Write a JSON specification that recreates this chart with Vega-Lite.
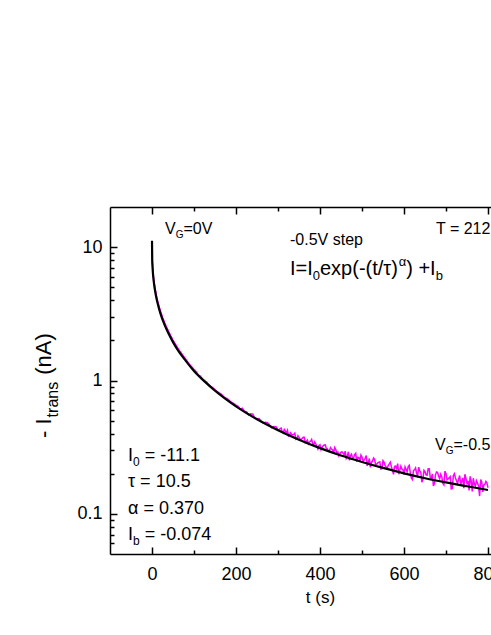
{
"$schema": "https://vega.github.io/schema/vega-lite/v6.json",
"width": 381, "height": 347,
"autosize": {"type": "none"},
"padding": {"left": 110, "top": 207, "right": 0, "bottom": 81},
"background": "white",
"config": {"view": {"stroke": null}, "font": "Liberation Sans", "text": {"font": "Liberation Sans", "color": "black"}},
"datasets": {
"measured": [
{"t":0,"v":11.1},{"t":0.5,"v":8.3},{"t":1,"v":7.6},{"t":2,"v":6.75},{"t":3,"v":6.2},{"t":5,"v":5.45},{"t":7,"v":4.95},{"t":10,"v":4.40},{"t":12,"v":4.10},{"t":15,"v":3.78},{"t":18,"v":3.50},{"t":20,"v":3.34},{"t":25,"v":2.98},{"t":30,"v":2.72},{"t":35,"v":2.50},{"t":40,"v":2.32},{"t":45,"v":2.15},{"t":50,"v":2.01},{"t":55,"v":1.89},{"t":60,"v":1.78},{"t":65,"v":1.68},{"t":70,"v":1.60},{"t":75,"v":1.52},{"t":80,"v":1.45},{"t":85,"v":1.38},{"t":90,"v":1.31},{"t":95,"v":1.26},{"t":100,"v":1.21},{"t":105,"v":1.17},{"t":110,"v":1.10},{"t":115,"v":1.08},{"t":120,"v":1.03},{"t":125,"v":1.00},{"t":130,"v":0.975},{"t":135,"v":0.93},{"t":140,"v":0.905},{"t":145,"v":0.882},{"t":150,"v":0.852},{"t":155,"v":0.826},{"t":160,"v":0.806},{"t":165,"v":0.79},{"t":170,"v":0.758},{"t":175,"v":0.742},{"t":180,"v":0.727},{"t":185,"v":0.705},{"t":190,"v":0.684},{"t":195,"v":0.672},{"t":200,"v":0.652},
{"t":205,"v":0.640},{"t":210,"v":0.608},{"t":215,"v":0.620},{"t":220,"v":0.589},{"t":225,"v":0.582},{"t":230,"v":0.552},{"t":235,"v":0.562},{"t":240,"v":0.560},{"t":245,"v":0.520},{"t":250,"v":0.517},{"t":255,"v":0.518},{"t":260,"v":0.494},{"t":265,"v":0.481},{"t":270,"v":0.487},{"t":275,"v":0.482},{"t":280,"v":0.464},{"t":285,"v":0.442},{"t":290,"v":0.451},{"t":295,"v":0.450},{"t":300,"v":0.428},
{"t":305,"v":0.435},{"t":310,"v":0.415},{"t":315,"v":0.429},{"t":320,"v":0.406},{"t":325,"v":0.384},{"t":330,"v":0.405},{"t":335,"v":0.391},{"t":340,"v":0.403},{"t":345,"v":0.367},{"t":350,"v":0.374},{"t":355,"v":0.362},{"t":360,"v":0.375},{"t":365,"v":0.342},{"t":370,"v":0.357},{"t":375,"v":0.346},{"t":380,"v":0.361},{"t":385,"v":0.329},{"t":390,"v":0.334},{"t":395,"v":0.307},{"t":400,"v":0.330},{"t":405,"v":0.314},{"t":410,"v":0.328},{"t":415,"v":0.309},{"t":420,"v":0.296},{"t":425,"v":0.314},{"t":430,"v":0.301},{"t":435,"v":0.314},{"t":440,"v":0.287},{"t":445,"v":0.272},{"t":450,"v":0.290},
{"t":455,"v":0.285},{"t":460,"v":0.295},{"t":465,"v":0.270},{"t":470,"v":0.252},{"t":475,"v":0.280},{"t":480,"v":0.264},{"t":485,"v":0.284},{"t":490,"v":0.266},{"t":495,"v":0.246},{"t":500,"v":0.267},{"t":505,"v":0.253},{"t":510,"v":0.274},{"t":515,"v":0.243},{"t":520,"v":0.223},{"t":525,"v":0.249},{"t":530,"v":0.256},{"t":535,"v":0.236},{"t":540,"v":0.244},{"t":545,"v":0.217},{"t":550,"v":0.250},{"t":555,"v":0.230},{"t":560,"v":0.219},{"t":565,"v":0.237},{"t":570,"v":0.226},{"t":575,"v":0.198},{"t":580,"v":0.228},{"t":585,"v":0.238},{"t":590,"v":0.213},{"t":595,"v":0.217},{"t":600,"v":0.197},
{"t":605,"v":0.216},{"t":610,"v":0.226},{"t":615,"v":0.203},{"t":620,"v":0.181},{"t":625,"v":0.214},{"t":630,"v":0.201},{"t":635,"v":0.224},{"t":640,"v":0.205},{"t":645,"v":0.181},{"t":650,"v":0.207},{"t":655,"v":0.195},{"t":660,"v":0.218},{"t":665,"v":0.185},{"t":670,"v":0.162},{"t":675,"v":0.197},{"t":680,"v":0.204},{"t":685,"v":0.183},{"t":690,"v":0.189},{"t":695,"v":0.165},{"t":700,"v":0.200},{"t":705,"v":0.183},{"t":710,"v":0.190},{"t":715,"v":0.155},{"t":720,"v":0.200},{"t":725,"v":0.177},{"t":730,"v":0.182},{"t":735,"v":0.166},{"t":740,"v":0.186},{"t":745,"v":0.198},{"t":750,"v":0.169},{"t":755,"v":0.150},{"t":760,"v":0.176},{"t":765,"v":0.185},{"t":770,"v":0.162},{"t":775,"v":0.170},{"t":780,"v":0.136},{"t":785,"v":0.174},{"t":790,"v":0.165},{"t":795,"v":0.175},{"t":800,"v":0.157},
{"t":302.5,"v":0.429},{"t":307.5,"v":0.439},{"t":312.5,"v":0.404},{"t":317.5,"v":0.418},{"t":322.5,"v":0.423},{"t":327.5,"v":0.389},{"t":332.5,"v":0.394},{"t":337.5,"v":0.395},{"t":342.5,"v":0.363},{"t":347.5,"v":0.385},{"t":352.5,"v":0.361},{"t":357.5,"v":0.367},{"t":362.5,"v":0.375},{"t":367.5,"v":0.349},{"t":372.5,"v":0.335},{"t":377.5,"v":0.350},{"t":382.5,"v":0.338},{"t":387.5,"v":0.346},{"t":392.5,"v":0.322},{"t":397.5,"v":0.326},{"t":402.5,"v":0.303},{"t":407.5,"v":0.324},{"t":412.5,"v":0.329},{"t":417.5,"v":0.307},{"t":422.5,"v":0.297},{"t":427.5,"v":0.306},{"t":432.5,"v":0.284},{"t":437.5,"v":0.303},{"t":442.5,"v":0.291},{"t":447.5,"v":0.282},
{"t":452.5,"v":0.292},{"t":457.5,"v":0.278},{"t":462.5,"v":0.261},{"t":467.5,"v":0.292},{"t":472.5,"v":0.274},{"t":477.5,"v":0.260},{"t":482.5,"v":0.278},{"t":487.5,"v":0.245},{"t":492.5,"v":0.264},{"t":497.5,"v":0.276},{"t":502.5,"v":0.249},{"t":507.5,"v":0.261},{"t":512.5,"v":0.229},{"t":517.5,"v":0.260},{"t":522.5,"v":0.243},{"t":527.5,"v":0.262},{"t":532.5,"v":0.232},{"t":537.5,"v":0.241},{"t":542.5,"v":0.245},{"t":547.5,"v":0.218},{"t":552.5,"v":0.244},{"t":557.5,"v":0.225},{"t":562.5,"v":0.231},{"t":567.5,"v":0.244},{"t":572.5,"v":0.212},{"t":577.5,"v":0.227},{"t":582.5,"v":0.218},{"t":587.5,"v":0.198},{"t":592.5,"v":0.228},{"t":597.5,"v":0.214},
{"t":602.5,"v":0.225},{"t":607.5,"v":0.207},{"t":612.5,"v":0.231},{"t":617.5,"v":0.186},{"t":622.5,"v":0.211},{"t":627.5,"v":0.221},{"t":632.5,"v":0.194},{"t":637.5,"v":0.210},{"t":642.5,"v":0.173},{"t":647.5,"v":0.212},{"t":652.5,"v":0.196},{"t":657.5,"v":0.218},{"t":662.5,"v":0.187},{"t":667.5,"v":0.199},{"t":672.5,"v":0.169},{"t":677.5,"v":0.206},{"t":682.5,"v":0.191},{"t":687.5,"v":0.198},{"t":692.5,"v":0.169},{"t":697.5,"v":0.209},{"t":702.5,"v":0.180},{"t":707.5,"v":0.186},{"t":712.5,"v":0.154},{"t":717.5,"v":0.194},{"t":722.5,"v":0.186},{"t":727.5,"v":0.169},{"t":732.5,"v":0.194},{"t":737.5,"v":0.175},{"t":742.5,"v":0.156},{"t":747.5,"v":0.184},{"t":752.5,"v":0.177},{"t":757.5,"v":0.191},{"t":762.5,"v":0.147},{"t":767.5,"v":0.167},{"t":772.5,"v":0.177},{"t":777.5,"v":0.162},{"t":782.5,"v":0.181},{"t":787.5,"v":0.146},{"t":792.5,"v":0.166},{"t":797.5,"v":0.170}
],
"fit": [
{"t":0,"v":11.17},{"t":0.5,"v":8.10},{"t":1,"v":7.38},{"t":2,"v":6.53},{"t":3,"v":5.99},{"t":5,"v":5.27},{"t":7,"v":4.77},{"t":10,"v":4.23},{"t":15,"v":3.62},{"t":20,"v":3.19},{"t":30,"v":2.61},{"t":40,"v":2.23},{"t":50,"v":1.94},{"t":60,"v":1.72},{"t":80,"v":1.41},{"t":100,"v":1.18},{"t":125,"v":0.985},{"t":150,"v":0.839},{"t":175,"v":0.728},{"t":200,"v":0.640},{"t":250,"v":0.512},{"t":300,"v":0.424},{"t":350,"v":0.360},{"t":400,"v":0.311},{"t":450,"v":0.274},{"t":500,"v":0.245},{"t":550,"v":0.221},{"t":600,"v":0.201},{"t":650,"v":0.185},{"t":700,"v":0.172},{"t":750,"v":0.161},{"t":800,"v":0.151}
],
"notes": [
{"g":"n16","t":30.95,"v":12.55,"s":"V"},
{"g":"n16","t":75.0,"v":12.55,"s":"=0V"},
{"g":"n16","t":676.19,"v":12.55,"s":"T = 212"},
{"g":"n16","t":328.57,"v":10.38,"s":"-0.5V step"},
{"g":"n16","t":673.81,"v":0.3012,"s":"V"},
{"g":"n16","t":717.86,"v":0.3012,"s":"=-0.5"},
{"g":"s10","t":56.43,"v":11.71,"s":"G"},
{"g":"s10","t":699.29,"v":0.2811,"s":"G"},
{"g":"f20","t":328.57,"v":6.181,"s":"I=I"},
{"g":"f20","t":400.0,"v":6.181,"s":"exp(-(t/τ)"},
{"g":"f20","t":605.2,"v":6.181,"s":") +I"},
{"g":"f13","t":382.86,"v":5.670,"s":"0"},
{"g":"f13","t":587.4,"v":7.221,"s":"α"},
{"g":"f13","t":675.5,"v":5.670,"s":"b"},
{"g":"p18","t":-57.14,"v":0.2491,"s":"I"},
{"g":"p18","t":-17.38,"v":0.2491,"s":"= -11.1"},
{"g":"p18","t":-57.14,"v":0.1591,"s":"τ = 10.5"},
{"g":"p18","t":-57.14,"v":0.09977,"s":"α = 0.370"},
{"g":"p18","t":-57.14,"v":0.06368,"s":"I"},
{"g":"p18","t":-17.38,"v":0.06368,"s":"= -0.074"},
{"g":"p12","t":-45.24,"v":0.2285,"s":"0"},
{"g":"p12","t":-45.24,"v":0.05842,"s":"b"},
{"g":"y22","t":-240.48,"v":0.3705,"s":"- I"},
{"g":"y22","t":-240.48,"v":1.1035,"s":"(nA)"},
{"g":"y16","t":-223.81,"v":0.5289,"s":"trans"}
]
},
"layer": [
{"data": {"name": "measured"},
 "mark": {"type": "line", "color": "#ff00ff", "strokeWidth": 1.5, "clip": true},
 "encoding": {
  "x": {"field": "t", "type": "quantitative", "scale": {"type": "linear", "domain": [-100, 807.14], "nice": false, "zero": false},
   "axis": {"orient": "bottom", "values": [0,100,200,300,400,500,600,700,800],
    "labelExpr": "datum.value % 200 === 0 ? format(datum.value, 'd') : ''",
    "tickSize": {"condition": {"test": "datum.value % 200 === 0", "value": -7}, "value": -4},
    "tickWidth": 1.5, "tickColor": "black", "domainColor": "black", "domainWidth": 1.5,
    "labelFont": "Liberation Sans", "labelFontSize": 18, "labelColor": "black", "labelPadding": 18, "labelFlush": false, "labelOverlap": false,
    "grid": false, "title": "t (s)", "titleFont": "Liberation Sans", "titleFontSize": 17, "titleFontWeight": "normal", "titleColor": "black",
    "titleX": 210, "titleY": 48, "titleBaseline": "alphabetic", "titleAlign": "center"}},
  "y": {"field": "v", "type": "quantitative", "scale": {"type": "log", "domain": [0.05, 20], "nice": false},
   "axis": {"orient": "left", "values": [0.06,0.07,0.08,0.09,0.1,0.2,0.3,0.4,0.5,0.6,0.7,0.8,0.9,1,2,3,4,5,6,7,8,9,10],
    "labelExpr": "datum.value === 0.1 ? '0.1' : datum.value === 1 ? '1' : datum.value === 10 ? '10' : ''",
    "tickSize": {"condition": {"test": "datum.value === 0.1 || datum.value === 1 || datum.value === 10", "value": -7}, "value": -4},
    "tickWidth": 1.5, "tickColor": "black", "domainColor": "black", "domainWidth": 1.5,
    "labelFont": "Liberation Sans", "labelFontSize": 18, "labelColor": "black", "labelPadding": 15, "labelFlush": false, "labelOverlap": false,
    "grid": false, "title": null}}
 }},
{"data": {"name": "fit"},
 "mark": {"type": "line", "color": "black", "strokeWidth": 2.2, "interpolate": "monotone", "clip": true},
 "encoding": {
  "x": {"field": "t", "type": "quantitative", "scale": {"type": "linear", "domain": [-100, 807.14], "nice": false, "zero": false},
   "axis": {"orient": "top", "values": [0,100,200,300,400,500,600,700,800], "labels": false,
    "tickSize": {"condition": {"test": "datum.value % 200 === 0", "value": -7}, "value": -4},
    "tickWidth": 1.5, "tickColor": "black", "domainColor": "black", "domainWidth": 1.5, "grid": false, "title": null}},
  "y": {"field": "v", "type": "quantitative", "scale": {"type": "log", "domain": [0.05, 20], "nice": false}, "axis": null}
 }},
{"data": {"name": "notes"}, "transform": [{"filter": "datum.g === 'n16'"}],
 "mark": {"type": "text", "fontSize": 16, "align": "left", "baseline": "alphabetic", "font": "Liberation Sans", "color": "black"},
 "encoding": {"x": {"field": "t", "type": "quantitative", "axis": null}, "y": {"field": "v", "type": "quantitative", "axis": null}, "text": {"field": "s"}}},
{"data": {"name": "notes"}, "transform": [{"filter": "datum.g === 's10'"}],
 "mark": {"type": "text", "fontSize": 10, "align": "left", "baseline": "alphabetic", "font": "Liberation Sans", "color": "black"},
 "encoding": {"x": {"field": "t", "type": "quantitative", "axis": null}, "y": {"field": "v", "type": "quantitative", "axis": null}, "text": {"field": "s"}}},
{"data": {"name": "notes"}, "transform": [{"filter": "datum.g === 'f20'"}],
 "mark": {"type": "text", "fontSize": 20, "align": "left", "baseline": "alphabetic", "font": "Liberation Sans", "color": "black"},
 "encoding": {"x": {"field": "t", "type": "quantitative", "axis": null}, "y": {"field": "v", "type": "quantitative", "axis": null}, "text": {"field": "s"}}},
{"data": {"name": "notes"}, "transform": [{"filter": "datum.g === 'f13'"}],
 "mark": {"type": "text", "fontSize": 13, "align": "left", "baseline": "alphabetic", "font": "Liberation Sans", "color": "black"},
 "encoding": {"x": {"field": "t", "type": "quantitative", "axis": null}, "y": {"field": "v", "type": "quantitative", "axis": null}, "text": {"field": "s"}}},
{"data": {"name": "notes"}, "transform": [{"filter": "datum.g === 'p18'"}],
 "mark": {"type": "text", "fontSize": 18, "align": "left", "baseline": "alphabetic", "font": "Liberation Sans", "color": "black"},
 "encoding": {"x": {"field": "t", "type": "quantitative", "axis": null}, "y": {"field": "v", "type": "quantitative", "axis": null}, "text": {"field": "s"}}},
{"data": {"name": "notes"}, "transform": [{"filter": "datum.g === 'p12'"}],
 "mark": {"type": "text", "fontSize": 12, "align": "left", "baseline": "alphabetic", "font": "Liberation Sans", "color": "black"},
 "encoding": {"x": {"field": "t", "type": "quantitative", "axis": null}, "y": {"field": "v", "type": "quantitative", "axis": null}, "text": {"field": "s"}}},
{"data": {"name": "notes"}, "transform": [{"filter": "datum.g === 'y22'"}],
 "mark": {"type": "text", "fontSize": 22, "align": "left", "baseline": "alphabetic", "angle": 270, "font": "Liberation Sans", "color": "black"},
 "encoding": {"x": {"field": "t", "type": "quantitative", "axis": null}, "y": {"field": "v", "type": "quantitative", "axis": null}, "text": {"field": "s"}}},
{"data": {"name": "notes"}, "transform": [{"filter": "datum.g === 'y16'"}],
 "mark": {"type": "text", "fontSize": 16, "align": "left", "baseline": "alphabetic", "angle": 270, "font": "Liberation Sans", "color": "black"},
 "encoding": {"x": {"field": "t", "type": "quantitative", "axis": null}, "y": {"field": "v", "type": "quantitative", "axis": null}, "text": {"field": "s"}}}
],
"resolve": {"axis": {"x": "independent", "y": "independent"}}
}
